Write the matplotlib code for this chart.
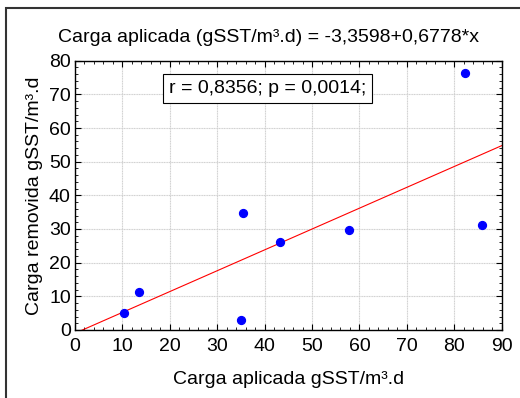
import numpy as np
import matplotlib
matplotlib.use('Agg')
import matplotlib.pyplot as plt
from matplotlib.ticker import AutoMinorLocator, MultipleLocator
from matplotlib.patches import Rectangle

plt.rcParams['font.family'] = ['Liberation Sans', 'DejaVu Sans']

# data
carga_aplicada = [10.4, 13.6, 35.5, 35.1, 43.2, 57.7, 82.2, 85.9]
carga_removida = [5.0, 11.3, 34.8, 3.0, 26.0, 29.7, 76.4, 31.2]

title = "Carga aplicada (gSST/m³.d) = -3,3598+0,6778*x"
stats_text = "r = 0,8356; p = 0,0014;"
x_label = "Carga aplicada gSST/m³.d"
y_label = "Carga removida gSST/m³.d"

fs = 14

fig = plt.figure(figsize=(5.2, 3.98), dpi=100)
ax = fig.add_axes([0.1442, 0.1709, 0.8206, 0.6766])

# outer frame
fig.patches.append(Rectangle((6 / 520, -0.1), 1.2, (398 - 8) / 398 + 0.1,
                             transform=fig.transFigure, fill=False,
                             edgecolor='#333333', linewidth=1.5))

slope, intercept = np.polyfit(carga_aplicada, carga_removida, 1)
xl = np.linspace(0, 90, 50)
ax.plot(xl, intercept + slope * xl, color='red', linewidth=0.8, zorder=2)

ax.scatter(carga_aplicada, carga_removida, s=32, color='blue', zorder=3)

ax.set_xlim(0, 90)
ax.set_ylim(0, 80)
ax.xaxis.set_major_locator(MultipleLocator(10))
ax.yaxis.set_major_locator(MultipleLocator(10))
ax.xaxis.set_minor_locator(AutoMinorLocator(5))
ax.yaxis.set_minor_locator(AutoMinorLocator(5))
ax.tick_params(which='both', direction='in', top=True, right=True, labelsize=fs)
ax.tick_params(axis='x', pad=6)
ax.tick_params(axis='y', pad=3)
ax.tick_params(which='major', length=4)
ax.tick_params(which='minor', length=2)
ax.grid(True, which='major', color='#d0d0d0', linewidth=0.8, linestyle=(0, (1, 0.5)))
ax.set_axisbelow(True)
for s in ax.spines.values():
    s.set_linewidth(1.0)

# title sits a bit left of the axes centre in the original
fig.text(268 / 520, 1 - 38 / 398, title, fontsize=fs, ha='center', va='center')
ax.set_xlabel(x_label, fontsize=fs, labelpad=11)
ax.set_ylabel(y_label, fontsize=fs, labelpad=4)

ax.text(40.7, 71.7, stats_text, fontsize=fs, ha='center', va='center',
        bbox=dict(boxstyle='square,pad=0.3', facecolor='white', edgecolor='black', linewidth=0.8))

fig.savefig('out.png', dpi=100)
